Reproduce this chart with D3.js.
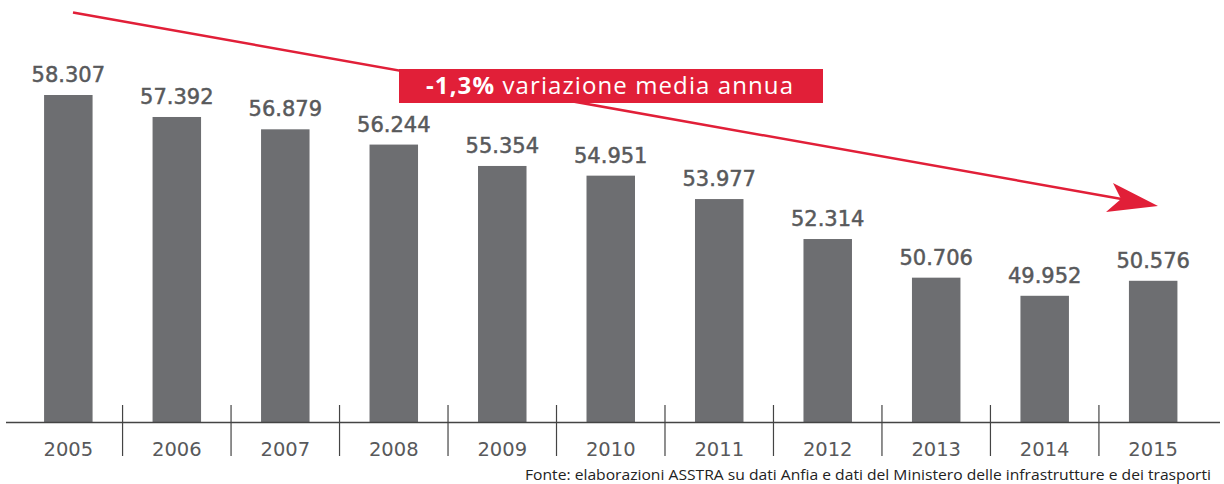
<!DOCTYPE html>
<html>
<head>
<meta charset="utf-8">
<script src="https://cdn.jsdelivr.net/npm/d3@7"></script>
<style>
  body { margin: 0; background: #fff; }
  #chart { width: 1224px; height: 484px; }
</style>
</head>
<body>
<div id="chart"></div>
<script>
var years = ["2005", "2006", "2007", "2008", "2009", "2010", "2011", "2012", "2013", "2014", "2015"];
var buses = [58307, 57392, 56879, 56244, 55354, 54951, 53977, 52314, 50706, 49952, 50576];
var trendLabel = "-1,3%";
var trendText = " variazione media annua";
var source = "Fonte: elaborazioni ASSTRA su dati Anfia e dati del Ministero delle infrastrutture e dei trasporti";

var width = 1224, height = 484;
var base = 422;

var svg = d3.select("#chart").append("svg")
            .attr("width", width)
            .attr("height", height);

var fmt = d3.formatLocale({decimal: ",", thousands: ".", grouping: [3], currency: ["", "€"]}).format(",d");

var x = d3.scaleBand()
          .domain(years)
          .range([13.7, 1207.8])
          .paddingInner(0.553)
          .paddingOuter(0.28);

var y = d3.scaleLinear()
          .domain([44700, 58307])
          .range([base, 95]);

var data = years.map(function(d, i){ return {year: d, value: buses[i]}; });

// bars
svg.selectAll("rect.bar").data(data).enter().append("rect")
   .attr("class", "bar")
   .attr("x", function(d){ return x(d.year); })
   .attr("width", x.bandwidth())
   .attr("y", function(d){ return y(d.value); })
   .attr("height", function(d){ return base - y(d.value); })
   .attr("fill", "#6d6e71");

// value labels
svg.selectAll("text.val").data(data).enter().append("text")
   .attr("class", "val")
   .attr("x", function(d){ return x(d.year) + x.bandwidth() / 2; })
   .attr("y", function(d){ return y(d.value) - 13; })
   .attr("text-anchor", "middle")
   .style("font-family", "DejaVu Sans")
   .style("font-size", "21px")
   .style("fill", "#58595b")
   .style("stroke", "#58595b")
   .style("stroke-width", "0.5px")
   .text(function(d){ return fmt(d.value); });

// axis
svg.append("line")
   .attr("x1", 6).attr("x2", 1220)
   .attr("y1", base + 0.5).attr("y2", base + 0.5)
   .attr("stroke", "#444").attr("stroke-width", 1.5);

var step = x.step();
var gap = step * x.paddingInner();
svg.selectAll("line.sep").data(years.slice(0, -1)).enter().append("line")
   .attr("class", "sep")
   .attr("x1", function(d){ return x(d) + x.bandwidth() + gap / 2; })
   .attr("x2", function(d){ return x(d) + x.bandwidth() + gap / 2; })
   .attr("y1", 405).attr("y2", 456)
   .attr("stroke", "#444").attr("stroke-width", 1.2);

svg.selectAll("text.year").data(years).enter().append("text")
   .attr("class", "year")
   .attr("x", function(d){ return x(d) + x.bandwidth() / 2; })
   .attr("y", 456)
   .attr("text-anchor", "middle")
   .style("font-family", "DejaVu Sans")
   .style("font-size", "19.5px")
   .style("fill", "#58595b")
   .text(function(d){ return d; });

// trend arrow
var red = "#e11f38";
svg.append("line")
   .attr("x1", 73).attr("y1", 12.5)
   .attr("x2", 1130).attr("y2", 200.5)
   .attr("stroke", red).attr("stroke-width", 2.5);
svg.append("path")
   .attr("d", "M1158,206 L1113,183 L1121,199 L1106,212 Z")
   .attr("fill", red);

svg.append("rect")
   .attr("x", 399).attr("y", 69)
   .attr("width", 424).attr("height", 34)
   .attr("fill", red);

var t = svg.append("text")
   .attr("x", 426).attr("y", 94)
   .attr("textLength", 367)
   .attr("lengthAdjust", "spacing")
   .style("font-family", "Open Sans")
   .style("font-size", "24px")
   .style("fill", "#fff");
t.append("tspan").style("font-weight", "bold").text(trendLabel);
t.append("tspan").text(trendText);

svg.append("text")
   .attr("x", 1211).attr("y", 480)
   .attr("text-anchor", "end")
   .attr("textLength", 686)
   .attr("lengthAdjust", "spacingAndGlyphs")
   .style("font-family", "Open Sans")
   .style("font-size", "14px")
   .style("fill", "#222")
   .text(source);
</script>
</body>
</html>
